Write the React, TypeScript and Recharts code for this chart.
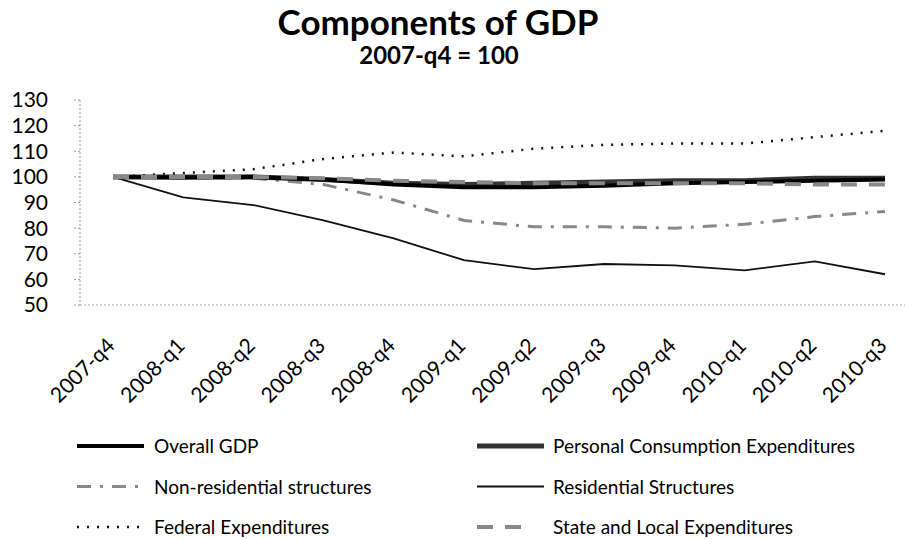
import { LineChart, Line, XAxis, YAxis } from "recharts";

const quarters = [
  "2007-q4", "2008-q1", "2008-q2", "2008-q3", "2008-q4", "2009-q1",
  "2009-q2", "2009-q3", "2009-q4", "2010-q1", "2010-q2", "2010-q3",
];
const overallGdp = [100, 99.8, 100, 99, 97, 96, 96, 96.5, 97.5, 98, 98.5, 99];
const personalConsumption = [100, 100, 100, 99, 97.5, 97, 97.5, 98, 98.5, 98.5, 99.5, 99.5];
const nonResidential = [100, 99.8, 99.5, 97, 91, 83, 80.5, 80.5, 80, 81.5, 84.5, 86.5];
const residential = [100, 92, 89, 83, 76, 67.5, 64, 66, 65.5, 63.5, 67, 62];
const federal = [100, 101.5, 103, 107, 109.5, 108, 111, 112.5, 113, 113, 115.5, 118];
const stateLocal = [100, 100, 100, 99.5, 98.5, 98, 97.5, 97.5, 97.5, 97.5, 97, 97];
const yTicks = [50, 60, 70, 80, 90, 100, 110, 120, 130];

const data = quarters.map((q, i) => ({
  q,
  gdp: overallGdp[i],
  pce: personalConsumption[i],
  nonres: nonResidential[i],
  res: residential[i],
  fed: federal[i],
  sl: stateLocal[i],
}));

const series = [
  { key: "res", name: "Residential Structures", color: "#111", width: 1.8, dash: undefined },
  { key: "fed", name: "Federal Expenditures", color: "#111", width: 2.5, dash: "2 8" },
  { key: "nonres", name: "Non-residential structures", color: "#888", width: 3, dash: "14 9 3 9" },
  { key: "pce", name: "Personal Consumption Expenditures", color: "#333", width: 5, dash: undefined },
  { key: "gdp", name: "Overall GDP", color: "#000", width: 4, dash: undefined },
  { key: "sl", name: "State and Local Expenditures", color: "#888", width: 4, dash: "16 12" },
];

// legend order as in the picture, two columns
const legendOrder = ["gdp", "pce", "nonres", "res", "fed", "sl"];

const font = "Lato, 'Open Sans', sans-serif";

function QuarterTick(props: any) {
  const { x, y, payload } = props;
  const ax = x + 3;
  const ay = y + 34;
  return (
    <text
      x={ax}
      y={ay}
      textAnchor="end"
      fontSize={21}
      fontFamily={font}
      fill="#000"
      transform={`rotate(-45, ${ax}, ${ay})`}
    >
      {payload.value}
    </text>
  );
}

export default function App() {
  return (
    <div style={{ position: "absolute", left: 0, top: 0, width: 908, height: 539, background: "#fff", fontFamily: font }}>
      <LineChart width={908} height={539} data={data} margin={{ top: 100, right: 3, left: 0, bottom: 134 }}>
        <XAxis
          dataKey="q"
          height={100}
          interval={0}
          padding={{ left: 33, right: 20 }}
          tick={<QuarterTick />}
          tickLine={false}
          stroke="#aaa"
          strokeDasharray="2 2"
        />
        <YAxis
          width={80}
          domain={[50, 130]}
          ticks={yTicks}
          interval={0}
          tickSize={6}
          tickMargin={26}
          stroke="#999"
          strokeDasharray="2 2"
          tick={{ fontSize: 21, fontFamily: font, fill: "#000" }}
        />
        {series.map((s) => (
          <Line
            key={s.key}
            dataKey={s.key}
            name={s.name}
            type="linear"
            stroke={s.color}
            strokeWidth={s.width}
            strokeDasharray={s.dash}
            dot={false}
            isAnimationActive={false}
          />
        ))}
      </LineChart>
      <svg width={908} height={539} style={{ position: "absolute", left: 0, top: 0, pointerEvents: "none" }}>
        <text x={438} y={35} textAnchor="middle" fontSize={35} fontWeight={700} fontFamily={font}>
          Components of GDP
        </text>
        <text x={439} y={64} textAnchor="middle" fontSize={24} fontWeight={700} fontFamily={font}>
          2007-q4 = 100
        </text>
        {legendOrder.map((k, i) => {
          const s = series.find((t) => t.key === k)!;
          const col = i % 2;
          const row = Math.floor(i / 2);
          const x0 = col === 0 ? 77 : 477;
          const cy = 446 + row * 40.5;
          const lineEnd = k === "sl" ? x0 + 54 : x0 + 67;
          const textX = col === 0 ? 154 : 553;
          return (
            <g key={k}>
              <line x1={x0} y1={cy} x2={lineEnd} y2={cy} stroke={s.color} strokeWidth={s.width} strokeDasharray={s.dash} />
              <text x={textX} y={cy + 7} fontSize={19} fontFamily={font} fill="#000">
                {s.name}
              </text>
            </g>
          );
        })}
      </svg>
    </div>
  );
}
